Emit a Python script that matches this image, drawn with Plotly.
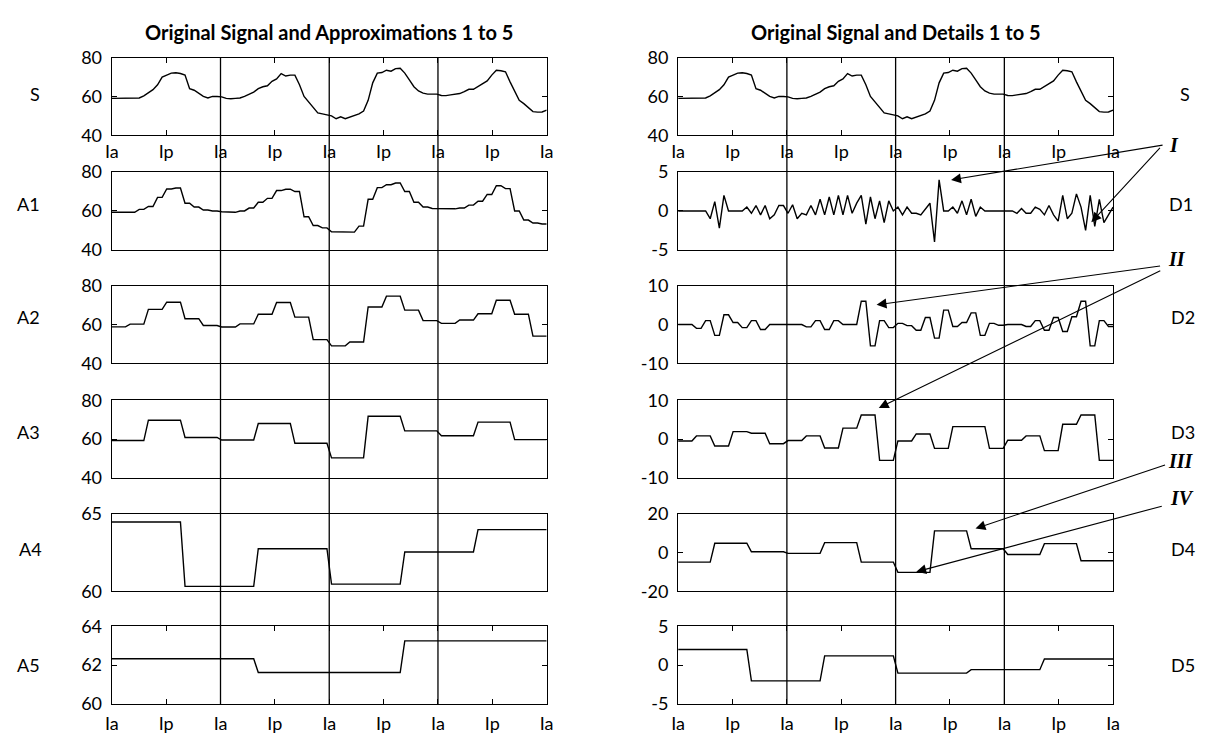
import numpy as np
import plotly.graph_objects as go

W, H = 1212, 746

# ---------------- data ----------------
S = [59, 59, 59, 59, 59, 59, 59.2, 60.3, 62, 63.5,
     66, 70, 71, 72, 72.2, 71.8, 71, 64, 63.2, 61.8,
     60, 59.2, 60, 60, 59.8, 59, 58.8, 59, 59.2, 60,
     61, 62.2, 64, 65, 65.5, 67.8, 69, 71.8, 70.5, 71,
     71, 66, 60, 57, 54.5, 51.5, 51, 50.5, 50, 48.5,
     49.5, 48.5, 49.3, 50, 51, 52.5, 58, 67, 72, 72.3,
     73.5, 73, 74.3, 74.5, 72, 68.5, 65, 62.8, 61.7, 61.2,
     61.2, 61.2, 60.5, 60.4, 60.8, 61.3, 61.5, 62.5, 63.7, 63.7,
     65, 66.3, 68, 71, 73.5, 73.2, 72.7, 67.5, 62.3, 58,
     56.3, 54, 52.2, 51.9, 52, 53]

A1 = [59.3, 59.3, 59.3, 60.8, 62.3, 67, 71.3, 71.8, 64, 62,
      60.5, 60, 59.6, 59.3, 60, 61.5, 64.5, 66.5, 70.5, 71.2,
      70, 57, 52.5, 51.3, 49.3, 49.1, 49.1, 52.2, 66, 72,
      73.5, 74.4, 70, 64.5, 62, 61.3, 61.1, 61.1, 61.5, 63,
      65, 68.5, 73, 71.5, 60, 55.3, 53.8, 53.3]
A2 = [58.8, 60.2, 67.8, 71.5, 63, 59.5, 58.7, 60.3, 65.3, 71.3, 63.8, 52.2,
      49, 51, 69, 74.6, 67.4, 62, 60.6, 62.3, 65.5, 72.5, 65.3, 54]
A3 = [59.2, 69.7, 60.8, 59.5, 68, 57.8, 50.3, 71.7, 64.2, 61.7, 68.7, 59.7]
A4 = [64.47, 60.32, 62.75, 60.47, 62.54, 63.98]
A5 = [62.33, 61.62, 63.25]

D1 = [0, 0, 0, 0, 0, 0, 0, -1, 1.2, -2.2,
      2, 0, 0, 0, 0, 0.5, -0.3, 0.7, -0.5, 0.7,
      -1, -0.5, 0.7, 0.7, -0.3, 0.8, -1, -0.3, -0.5, 0.7,
      -0.5, 1.5, -0.5, 1.8, -0.5, 2, -0.5, 2, -0.3, 1,
      2, -1.7, 1.8, -1, 1.3, -1.5, 1.3, 0, 0.5, -0.5,
      0.5, -0.3, -0.3, -0.5, 0.3, 1, -4, 4, 0, 0,
      0.5, -0.3, 1.3, -0.5, 1.5, -0.7, 0.5, 0, 0, 0,
      0, 0, 0, 0, -0.3, 0.3, -0.3, -0.3, 0.5, 0.2,
      -0.5, 0.7, -0.5, -1.3, 2, -1, -0.3, 2.2, 0.5, -2.5,
      2, -2, 1.5, -1.5, -0.5, 0.5]
D2 = [0, 0, -1, 1, -2.8, 2.5, 0.5, -0.8, 1, -1.3,
      0, 0, 0, 0, -0.6, 1, -1.3, 1, 0, 0,
      6, -5.5, 1, -0.8, 0.3, -0.3, -1.5, 1.8, -3.5, 3.7,
      -0.5, 0.5, 3, -2.8, 0.3, -0.2, 0, 0, -0.5, 1,
      -1.5, 1.8, -1.8, 2, 6, -5.5, 1, -0.5]
D3 = [-0.5, 0.8, -1.8, 1.9, 1.5, -1.2, -0.4, 0.8, -2.3, 2.8, 6.2, -5.5,
      -0.5, 1.3, -2.4, 3.2, 3.2, -2.4, -0.3, 0.8, -3, 3.8, 6.2, -5.5]
D4 = [-4.9, 4.8, 0.4, -0.4, 5.1, -4.9, -10.2, 11.2, 2.0, -1.0, 4.6, -4.2]
D5 = [2.02, -2.02, 1.2, -1.03, -0.58, 0.79]

x_ticks = [0, 1, 2, 3, 4, 5, 6, 7, 8]
x_labels = ["Ia", "Ip", "Ia", "Ip", "Ia", "Ip", "Ia", "Ip", "Ia"]
cycle_bounds = [2, 4, 6]

titles = ["Original Signal and Approximations 1 to 5", "Original Signal and Details 1 to 5"]

# name, values, samples per value, y-range, y-ticks
left = [("S", S, 1, [40, 80], [40, 60, 80]),
        ("A1", A1, 2, [40, 80], [40, 60, 80]),
        ("A2", A2, 4, [40, 80], [40, 60, 80]),
        ("A3", A3, 8, [40, 80], [40, 60, 80]),
        ("A4", A4, 16, [60, 65], [60, 65]),
        ("A5", A5, 32, [60, 64], [60, 62, 64])]
right = [("S", S, 1, [40, 80], [40, 60, 80]),
         ("D1", D1, 1, [-5, 5], [-5, 0, 5]),
         ("D2", D2, 2, [-10, 10], [-10, 0, 10]),
         ("D3", D3, 4, [-10, 10], [-10, 0, 10]),
         ("D4", D4, 8, [-20, 20], [-20, 0, 20]),
         ("D5", D5, 16, [-5, 5], [-5, 0, 5])]

# ---------------- layout geometry (pixels) ----------------
col_px = [(106, 546), (679, 1119)]
row_top = [47, 165, 282, 400, 517, 633]
row_h = 80
label_x = [(28, 22, 22, 22, 24, 22), (1192, 1188, 1190, 1190, 1190, 1190)]
label_dy = [-2, -7, -8, -7, -4, 0]

FONT = "Lato, 'Open Sans', sans-serif"
TICK_SIZE = 18
fig = go.Figure()
layout = dict(width=W, height=H, margin=dict(l=0, r=0, t=0, b=0),
              paper_bgcolor="white", plot_bgcolor="white", showlegend=False,
              annotations=[], shapes=[])

for c, series in enumerate([left, right]):
    x0p, x1p = col_px[c]
    xdom = [x0p / W, x1p / W]
    for r, (name, vals, rep, yr, yt) in enumerate(series):
        idx = r * 2 + c + 1
        sx = "" if idx == 1 else str(idx)
        top = row_top[r]
        ydom = [1 - (top + row_h) / H, 1 - top / H]
        y = np.repeat(np.asarray(vals, dtype=float), rep)
        x = np.linspace(0, 8, len(y))
        fig.add_trace(go.Scatter(x=x, y=y, mode="lines",
                                 line=dict(color="black", width=1.4),
                                 xaxis="x" + sx, yaxis="y" + sx,
                                 hoverinfo="skip"))
        tick_row = r in (0, 5)
        xa = dict(domain=xdom, range=[0, 8], anchor="y" + sx,
                  showline=True, linecolor="black", linewidth=1.3,
                  mirror="ticks" if tick_row else True,
                  showgrid=False, zeroline=False, fixedrange=True)
        if tick_row:
            xa.update(ticks="inside", ticklen=5, tickcolor="black", tickwidth=1,
                      tickvals=x_ticks, ticktext=x_labels,
                      ticklabelstandoff=(0 if r == 0 else 3),
                      tickfont=dict(family=FONT, size=TICK_SIZE, color="black"))
        else:
            xa.update(ticks="", showticklabels=False)
        ya = dict(domain=ydom, range=yr, anchor="x" + sx,
                  showline=True, linecolor="black", linewidth=1.3,
                  mirror="ticks", ticks="inside", ticklen=5,
                  tickcolor="black", tickwidth=1,
                  tickvals=yt, ticktext=[str(v) for v in yt],
                  ticklabelstandoff=5,
                  tickfont=dict(family=FONT, size=TICK_SIZE, color="black"),
                  showgrid=False, zeroline=False, fixedrange=True)
        layout["xaxis" + sx] = xa
        layout["yaxis" + sx] = ya
        layout["annotations"].append(dict(
            text=name, xref="paper", yref="paper",
            x=label_x[c][r] / W, y=1 - (top + row_h / 2 + label_dy[r]) / H,
            showarrow=False, xanchor="center", yanchor="middle",
            font=dict(family=FONT, size=TICK_SIZE, color="black")))
    # column title
    layout["annotations"].append(dict(
        text="<b>" + titles[c] + "</b>", xref="paper", yref="paper",
        x=(x0p + x1p) / 2 / W, y=1 - 21 / H, showarrow=False,
        xanchor="center", yanchor="middle",
        font=dict(family=FONT, size=20, color="black")))
    # vertical cycle lines across the whole column
    sx_top = "" if c == 0 else "2"
    for b in cycle_bounds:
        layout["shapes"].append(dict(
            type="line", xref="x" + sx_top, yref="paper", x0=b, x1=b,
            y0=1 - (row_top[5] + row_h) / H, y1=1 - row_top[0] / H,
            line=dict(color="black", width=1.3), layer="above"))

# arrows pointing at features of the detail panels
arrows = [  # axis index, tip x, tip y, tail offset x/y (px)
    (4, 5.02, 4.0, 213, -35),
    (4, 7.6, -1.46, 70, -76),
    (6, 3.65, 5.06, 285, -39),
    (8, 3.69, 8.0, 283, -138),
    (10, 5.47, 12.4, 191, -64),
    (10, 4.38, -9.9, 247, -66),
]
for idx, ax_, ay_, dx, dy in arrows:
    layout["annotations"].append(dict(
        text="", x=ax_, y=ay_, xref="x%d" % idx, yref="y%d" % idx,
        showarrow=True, ax=dx, ay=dy, arrowhead=2, arrowsize=1.8,
        arrowwidth=1.1, arrowcolor="black", standoff=0))

roman = [("I", 1181, 137), ("II", 1184, 255), ("III", 1188, 463), ("IV", 1189, 501)]
for txt, px, py in roman:
    layout["annotations"].append(dict(
        text="<b><i>" + txt + "</i></b>", xref="paper", yref="paper",
        x=px / W, y=1 - py / H, showarrow=False, xanchor="center", yanchor="middle",
        font=dict(family="Liberation Serif, serif", size=20, color="black")))

fig.update_layout(**layout)
fig.write_html("out.html")
